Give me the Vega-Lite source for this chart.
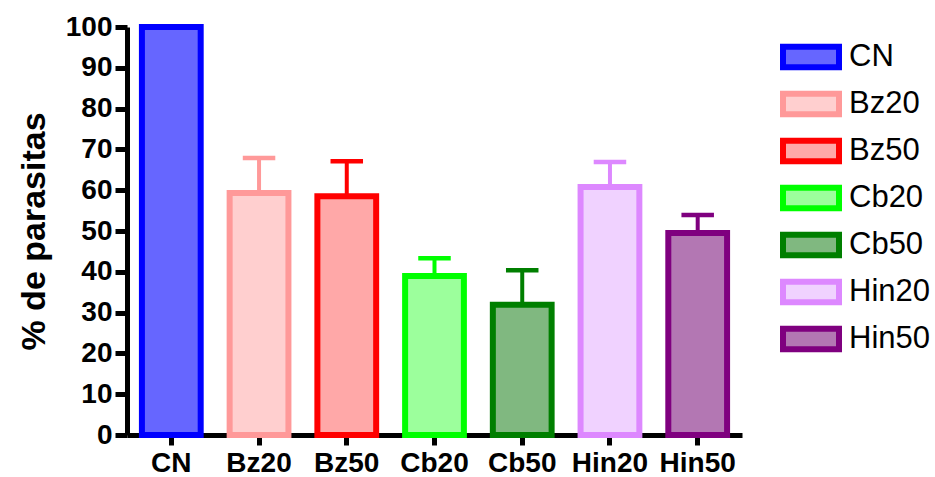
{
  "$schema": "https://vega.github.io/schema/vega-lite/v6.json",
  "width": 615,
  "height": 408,
  "autosize": "none",
  "padding": {"left": 127, "top": 27, "right": 193, "bottom": 42},
  "background": "white",
  "config": {
    "view": {"stroke": null},
    "font": "Liberation Sans",
    "axis": {
      "domainColor": "black",
      "domainWidth": 5,
      "tickColor": "black",
      "tickWidth": 5,
      "labelFont": "Liberation Sans",
      "labelFontWeight": "bold",
      "labelFontSize": 28,
      "labelColor": "black",
      "titleFont": "Liberation Sans",
      "titleFontSize": 34,
      "titleFontWeight": "bold",
      "titleColor": "black",
      "grid": false
    },
    "axisY": {"tickSize": 12, "labelPadding": 3, "titlePadding": 14, "tickCount": 10},
    "axisX": {"tickSize": 10, "labelAngle": 0, "labelPadding": 4, "title": null},
    "legend": {
      "orient": "none",
      "legendX": 667,
      "legendY": 13,
      "symbolType": "M-2,-0.74H2V0.74H-2Z",
      "symbolSize": 784,
      "symbolStrokeWidth": 6,
      "labelFont": "Liberation Sans",
      "labelFontSize": 31,
      "labelColor": "black",
      "labelOffset": 21,
      "rowPadding": 1,
      "symbolOpacity": 1
    }
  },
  "data": {
    "values": [
      {"group": "CN", "mean": 100, "upper": 100},
      {"group": "Bz20", "mean": 59.3, "upper": 67.9},
      {"group": "Bz50", "mean": 58.5, "upper": 67.1},
      {"group": "Cb20", "mean": 39, "upper": 43.3},
      {"group": "Cb50", "mean": 31.9, "upper": 40.4},
      {"group": "Hin20", "mean": 60.8, "upper": 66.9},
      {"group": "Hin50", "mean": 49.5, "upper": 53.9}
    ]
  },
  "encoding": {
    "x": {
      "field": "group",
      "type": "nominal",
      "sort": null,
      "title": null,
      "scale": {"paddingInner": 0.33, "paddingOuter": 0.17}
    }
  },
  "layer": [
    {
      "mark": {"type": "rule", "strokeWidth": 4},
      "encoding": {
        "y": {"field": "mean", "type": "quantitative", "title": "% de parasitas", "scale": {"domain": [0, 100], "nice": false}},
        "y2": {"field": "upper"},
        "stroke": {"field": "group", "type": "nominal", "sort": null, "legend": {"title": null}}
      }
    },
    {
      "mark": {"type": "tick", "thickness": 1, "size": 29, "filled": false, "strokeWidth": 3.5, "opacity": 1},
      "encoding": {
        "y": {"field": "upper", "type": "quantitative", "title": "% de parasitas"},
        "stroke": {"field": "group", "type": "nominal", "sort": null, "legend": {"title": null}}
      }
    },
    {
      "mark": {"type": "bar", "strokeWidth": 6},
      "encoding": {
        "y": {"field": "mean", "type": "quantitative", "title": "% de parasitas"},
        "fill": {
          "field": "group", "type": "nominal", "sort": null, "legend": {"title": null},
          "scale": {"domain": ["CN", "Bz20", "Bz50", "Cb20", "Cb50", "Hin20", "Hin50"],
                    "range": ["#6666FF", "#FFCFCF", "#FFA8A8", "#9CFF9C", "#80B880", "#F0D2FF", "#B377B3"]}
        },
        "stroke": {
          "field": "group", "type": "nominal", "sort": null, "legend": {"title": null},
          "scale": {"domain": ["CN", "Bz20", "Bz50", "Cb20", "Cb50", "Hin20", "Hin50"],
                    "range": ["#0000FF", "#FF9999", "#FF0000", "#00FF00", "#007F00", "#DD88FF", "#7F007F"]}
        }
      }
    }
  ]
}
